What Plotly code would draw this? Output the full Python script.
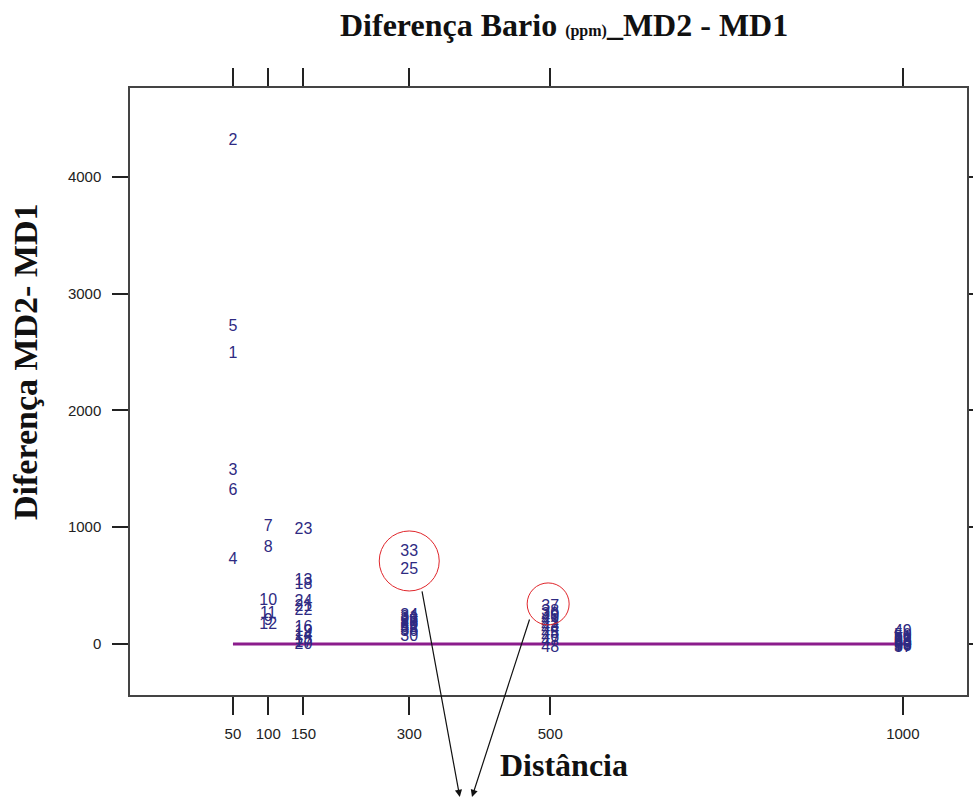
import plotly.graph_objects as go

# ---- data ----
distancia = [50, 50, 50, 50, 50, 50,
             100, 100, 100, 100, 100, 100,
             150, 150, 150, 150, 150, 150, 150, 150, 150, 150, 150, 150,
             300, 300, 300, 300, 300, 300, 300, 300, 300, 300, 300, 300,
             500, 500, 500, 500, 500, 500, 500, 500, 500, 500, 500, 500,
             1000, 1000, 1000, 1000, 1000, 1000, 1000, 1000, 1000, 1000, 1000, 1000]
diferenca = [2484, 4308, 1482, 719, 2715, 1310,
             1002, 822, 197, 368, 257, 163,
             540, 69, 34, 137, 9, 505, 103, -9, 317, 283, 976, 360,
             634, 206, 189, 172, 155, 60, 223, 138, 788, 240, 120, 103,
             317, 274, 248, 223, 197, 171, 146, 120, 86, 52, 17, -34,
             103, 69, 52, 34, 17, 0, -17, -26, -34, 9, 26, -9]
rotulos = [str(i) for i in range(1, 61)]

linha_x = [50, 1000]
linha_y = [0, 0]

x_ticks = [50, 100, 150, 300, 500, 1000]
y_ticks = [0, 1000, 2000, 3000, 4000]

fig = go.Figure()
fig.add_trace(go.Scatter(
    x=linha_x, y=linha_y, mode="lines",
    line=dict(color="#8B1C8C", width=3), hoverinfo="skip", showlegend=False))
fig.add_trace(go.Scatter(
    x=distancia, y=diferenca, mode="text", text=rotulos,
    textposition="middle center",
    textfont=dict(family="Liberation Sans, Arial", size=16, color="#2E2A82"),
    showlegend=False, cliponaxis=False))

axis_common = dict(showgrid=False, zeroline=False, showline=True, linecolor="#444",
                   linewidth=1.5, mirror="ticks", ticks="outside", tickcolor="#222",
                   tickwidth=1.5, automargin=False,
                   tickfont=dict(family="Liberation Sans, Arial", size=15, color="#222"))

fig.update_xaxes(range=[-96, 1091], tickvals=x_ticks, ticklen=18,
                 ticklabelstandoff=6, **axis_common)
fig.update_yaxes(range=[-437, 4762], tickvals=y_ticks, ticklen=16,
                 ticklabelstandoff=8, **axis_common)

# highlight circles around points 33/25 and 37
i33 = rotulos.index("33"); i25 = rotulos.index("25"); i37 = rotulos.index("37")
fig.add_shape(type="circle", xref="x", yref="y", xsizemode="pixel", ysizemode="pixel",
              xanchor=distancia[i33], yanchor=(diferenca[i33] + diferenca[i25]) / 2,
              x0=-30, x1=30, y0=-30, y1=30, line=dict(color="#E0262B", width=1))
fig.add_shape(type="circle", xref="x", yref="y", xsizemode="pixel", ysizemode="pixel",
              xanchor=distancia[i37] - 3, yanchor=diferenca[i37] + 26,
              x0=-21, x1=21, y0=-21, y1=21, line=dict(color="#E0262B", width=1))

# arrows
fig.add_annotation(x=0.394, y=-0.168, xref="paper", yref="paper", text="",
                   showarrow=True, arrowhead=2, arrowsize=1.2, arrowwidth=1.2,
                   arrowcolor="#111", ax=-38, ay=-207)
fig.add_annotation(x=0.4086, y=-0.168, xref="paper", yref="paper", text="",
                   showarrow=True, arrowhead=2, arrowsize=1.2, arrowwidth=1.2,
                   arrowcolor="#111", ax=58, ay=-179)

serif = "Liberation Serif, Times New Roman, serif"
fig.add_annotation(x=(564 - 130) / 837, y=(695 - 25) / 607, xref="paper", yref="paper",
                   showarrow=False, xanchor="center", yanchor="middle",
                   text="<b>Diferença Bario <span style='font-size:16px'>(ppm)</span>_MD2 - MD1</b>",
                   font=dict(family=serif, size=32, color="#111"))
fig.add_annotation(x=(564 - 130) / 837, y=(695 - 765) / 607, xref="paper", yref="paper",
                   showarrow=False, xanchor="center", yanchor="middle",
                   text="<b>Distância</b>", font=dict(family=serif, size=32, color="#111"))
fig.add_annotation(x=(25 - 130) / 837, y=(695 - 362) / 607, xref="paper", yref="paper",
                   showarrow=False, xanchor="center", yanchor="middle", textangle=-90,
                   text="<b>Diferença MD2- MD1</b>", font=dict(family=serif, size=34, color="#111"))

fig.update_layout(width=973, height=798, margin=dict(l=130, r=6, t=88, b=103),
                  paper_bgcolor="white", plot_bgcolor="white")

fig.write_html("out.html")
